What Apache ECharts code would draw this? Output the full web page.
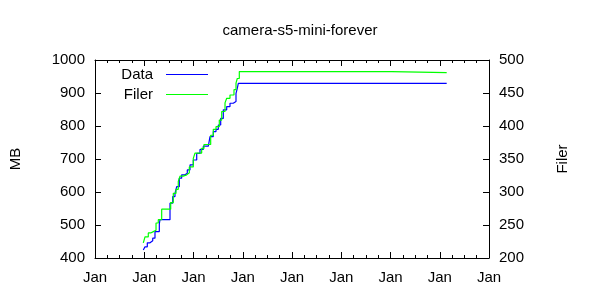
<!DOCTYPE html>
<html>
<head>
<meta charset="utf-8">
<script src="https://cdn.jsdelivr.net/npm/echarts@6/dist/echarts.min.js"></script>
<style>html,body{margin:0;padding:0;background:#fff}#c{width:600px;height:300px}</style>
</head>
<body>
<div id="c"></div>
<script>
// Time positions as decimal years; tick labels all "Jan"
const tickLabel = 'Jan';
const xMin = 2008, xMax = 2016;

// "Data" series (MB, left axis)
const dataX = [2008.981,2009.015,2009.062,2009.117,2009.172,2009.218,2009.306,2009.320,2009.523,2009.578,2009.624,2009.659,2009.712,2009.760,2009.827,2009.874,2009.929,2009.996,2010.065,2010.132,2010.199,2010.301,2010.335,2010.402,2010.457,2010.504,2010.552,2010.605,2010.674,2010.741,2010.808,2010.863,2010.889,2010.910,2015.141];
const dataMB = [424,434,446,452,460,480,503,516,566,586,596,616,642,652,657,667,682,697,717,729,739,742,768,783,790,803,823,849,859,869,874,899,914,929,929];

// "Filer" series (file count, right axis)
const filerX = [2008.981,2009.015,2009.082,2009.131,2009.184,2009.239,2009.285,2009.354,2009.537,2009.590,2009.645,2009.691,2009.726,2009.793,2009.862,2009.915,2009.996,2010.030,2010.166,2010.213,2010.349,2010.402,2010.457,2010.524,2010.573,2010.640,2010.674,2010.741,2010.822,2010.863,2010.889,2010.930,2014.024,2015.141];
const filerCount = [223,232,238,240,242,253,258,274,284,298,304,316,324,326,329,338,351,359,366,372,386,395,399,409,422,435,442,447,455,465,472,482.5,481,481];

const font = 'Liberation Sans, Arial, sans-serif';
const chart = echarts.init(document.getElementById('c'), null, {renderer:'canvas'});
const axisCommon = {
  axisLine:{show:true,lineStyle:{color:'#000',width:1}},
  axisTick:{show:true,inside:true,length:6,lineStyle:{color:'#000'}},
  splitLine:{show:false}
};
const legendCommon = {orient:'vertical',align:'right',icon:'rect',itemWidth:42,itemHeight:1,
  textStyle:{fontFamily:font,fontSize:15,color:'#000',padding:[0,8,0,0]}};
chart.setOption({
  animation:false,
  backgroundColor:'#fff',
  title:{text:'camera-s5-mini-forever',left:'center',top:18,textStyle:{fontFamily:font,fontSize:15,fontWeight:'normal',color:'#000'}},
  legend:[
    Object.assign({data:['Data'],right:387,top:62},legendCommon),
    Object.assign({data:['Filer'],right:387,top:82},legendCommon)
  ],
  grid:{left:95,right:111,top:60,bottom:42},
  xAxis:[
    Object.assign({type:'value',position:'bottom',min:xMin,max:xMax,interval:1,
      axisLabel:{formatter:()=>tickLabel,fontFamily:font,fontSize:15,color:'#000',margin:12},
      minorTick:{show:true,splitNumber:4,length:3,lineStyle:{color:'#000'}}},axisCommon),
    Object.assign({type:'value',position:'top',min:xMin,max:xMax,interval:1,
      axisLabel:{show:false},
      minorTick:{show:true,splitNumber:4,length:3,lineStyle:{color:'#000'}}},axisCommon)
  ],
  yAxis:[
    Object.assign({type:'value',position:'left',min:400,max:1000,interval:100,
      name:'MB',nameLocation:'middle',nameRotate:90,nameGap:72,
      nameTextStyle:{fontFamily:font,fontSize:15,color:'#000'},
      axisLabel:{formatter:v=>String(v),fontFamily:font,fontSize:15,color:'#000',margin:10}},axisCommon),
    Object.assign({type:'value',position:'right',min:200,max:500,interval:50,
      name:'Filer',nameLocation:'middle',nameRotate:90,nameGap:66,
      nameTextStyle:{fontFamily:font,fontSize:15,color:'#000'},
      axisLabel:{formatter:v=>String(v),fontFamily:font,fontSize:15,color:'#000',margin:10}},axisCommon)
  ],
  series:[
    {name:'Data',type:'line',step:'end',xAxisIndex:0,yAxisIndex:0,symbol:'none',
     color:'#0000ff',lineStyle:{width:1.2,color:'#0000ff'},
     data:dataX.map((x,i)=>[x,dataMB[i]])},
    {name:'Filer',type:'line',step:'end',xAxisIndex:0,yAxisIndex:1,symbol:'none',
     color:'#00ff00',lineStyle:{width:1.2,color:'#00ff00'},
     data:filerX.map((x,i)=>[x,filerCount[i]])}
  ]
});
</script>
</body>
</html>
